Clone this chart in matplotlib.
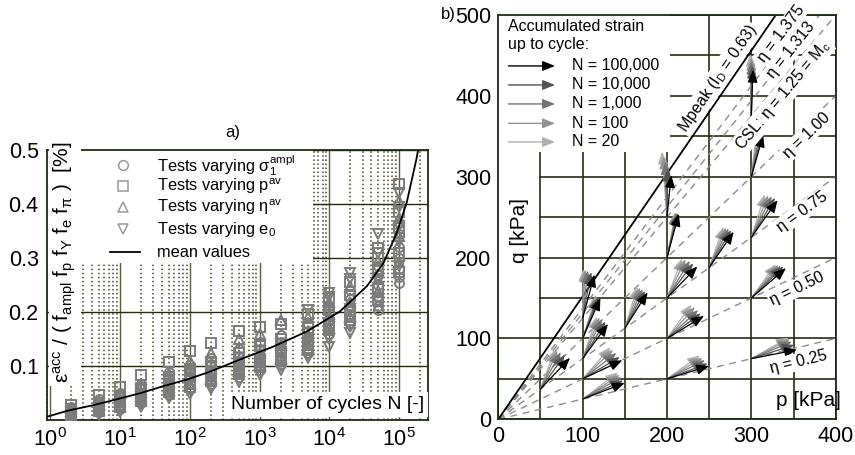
import numpy as np
import matplotlib
matplotlib.use("Agg")
import matplotlib.pyplot as plt
from matplotlib.patches import Rectangle
from matplotlib.ticker import LogLocator, NullFormatter

plt.rcParams['font.family'] = ['Liberation Sans', 'DejaVu Sans']
plt.rcParams['mathtext.default'] = 'regular'

# ---------------- panel a) data ----------------
n_cycles = [2, 5, 10, 20, 50, 100, 200, 500, 1e3, 2e3, 5e3, 1e4, 2e4, 5e4, 1e5]
circ_vals = [
    [0.008, 0.012, 0.016, 0.020, 0.024],
    [0.014, 0.020, 0.026, 0.032, 0.038],
    [0.020, 0.028, 0.035, 0.042, 0.050],
    [0.031, 0.040, 0.049, 0.058, 0.067],
    [0.047, 0.057, 0.067, 0.077, 0.088],
    [0.058, 0.068, 0.079, 0.090, 0.102],
    [0.067, 0.079, 0.091, 0.103, 0.115],
    [0.080, 0.093, 0.106, 0.119, 0.132],
    [0.092, 0.105, 0.118, 0.131, 0.144],
    [0.104, 0.118, 0.131, 0.144, 0.158],
    [0.124, 0.138, 0.151, 0.164, 0.178],
    [0.160, 0.172, 0.185, 0.198, 0.211],
    [0.180, 0.195, 0.210, 0.225, 0.240],
    [0.204, 0.212, 0.230, 0.250, 0.268, 0.286],
    [0.254, 0.265, 0.280, 0.300, 0.320, 0.345, 0.365],
]
sq_vals = [
    [0.010, 0.015, 0.019, 0.027],
    [0.017, 0.024, 0.031, 0.046],
    [0.024, 0.033, 0.044, 0.062],
    [0.035, 0.046, 0.060, 0.083],
    [0.052, 0.064, 0.080, 0.108],
    [0.062, 0.075, 0.095, 0.127],
    [0.072, 0.087, 0.108, 0.142],
    [0.086, 0.101, 0.125, 0.164],
    [0.098, 0.113, 0.137, 0.173],
    [0.110, 0.126, 0.150, 0.178],
    [0.130, 0.146, 0.170, 0.196],
    [0.166, 0.180, 0.204, 0.226],
    [0.186, 0.202, 0.232, 0.255],
    [0.222, 0.245, 0.280, 0.300, 0.318],
    [0.275, 0.310, 0.355, 0.385, 0.437],
]
up_vals = [
    [0.011, 0.017, 0.022],
    [0.019, 0.028, 0.036],
    [0.026, 0.038, 0.048],
    [0.038, 0.052, 0.064],
    [0.055, 0.071, 0.085],
    [0.066, 0.083, 0.110],
    [0.076, 0.095, 0.125],
    [0.090, 0.112, 0.150],
    [0.102, 0.125, 0.160],
    [0.114, 0.138, 0.186],
    [0.134, 0.158, 0.190],
    [0.170, 0.192, 0.218],
    [0.190, 0.218, 0.248],
    [0.238, 0.262, 0.295],
    [0.292, 0.340, 0.375, 0.405],
]
dn_vals = [
    [0.005, 0.014, 0.021],
    [0.010, 0.022, 0.030],
    [0.015, 0.030, 0.040],
    [0.025, 0.043, 0.055],
    [0.040, 0.060, 0.074],
    [0.049, 0.072, 0.087],
    [0.058, 0.083, 0.099],
    [0.071, 0.097, 0.115],
    [0.083, 0.109, 0.128],
    [0.093, 0.122, 0.141],
    [0.114, 0.120, 0.142, 0.204],
    [0.136, 0.150, 0.176, 0.228, 0.235],
    [0.161, 0.172, 0.205, 0.262, 0.273],
    [0.218, 0.258, 0.310, 0.344],
    [0.285, 0.330, 0.360, 0.395, 0.420],
]
mean_n = [0.9, 1.75, 4, 8.2, 20, 42.5, 92, 200, 525, 1580, 4780, 14200,
          34700, 60000, 93000, 129000, 178000, 200000]
mean_eps = [0.006, 0.017, 0.027, 0.037, 0.050, 0.063, 0.075, 0.090, 0.112,
            0.136, 0.164, 0.201, 0.248, 0.291, 0.347, 0.403, 0.484, 0.52]

# ---------------- panel b) data ----------------
eta_lines = [0.25, 0.50, 0.75, 1.00, 1.25, 1.313, 1.375]
eta_texts = ['η = 0.25', 'η = 0.50', 'η = 0.75', 'η = 1.00',
             'CSL: η = 1.25 = M$_c$', 'η = 1.313', 'η = 1.375']
eta_text_p = [355.8, 353.8, 359.8, 365.7, 337.5, 347, 335]
eta_text_q = [71, 162, 256.7, 351.6, 401, 457, 476.5]
m_peak = 1.52

start_p = [50, 100, 100, 100, 100, 100, 150, 200, 200, 200, 200, 200, 250, 300, 300, 300, 300, 300]
start_q = [37.5, 25, 50, 75, 100, 125, 112.5, 50, 100, 150, 200, 250, 187.5, 75, 150, 225, 300, 375]
# arrow tips for N = 20, 100, 1000, 10000, 100000
tip_p = [
    [67, 70, 74, 79, 85],
    [142, 144, 146, 148, 150],
    [133, 136, 140, 144, 147],
    [117, 120, 123, 127, 130],
    [116, 117, 118, 119, 121],
    [101, 103, 106, 110, 114],
    [165, 168, 171, 174, 177],
    [239, 242, 245, 248, 250],
    [229, 233, 237, 240, 244],
    [218, 222, 227, 231, 236],
    [210, 211, 212, 213, 214],
    [194, 196, 198, 201, 205],
    [267, 270, 273, 276, 279],
    [344, 346, 348, 351, 354],
    [329, 332, 335, 338, 341],
    [316, 320, 324, 328, 331],
    [306, 308, 310, 312, 314],
    [299, 300, 300, 301, 302],
]
tip_q = [
    [86, 85, 83, 80, 76],
    [58, 55, 52, 48, 45],
    [89, 86, 82, 77, 73],
    [127, 126, 124, 121, 118],
    [152, 152, 151, 151, 150],
    [186, 185, 184, 182, 179],
    [164, 163, 161, 159, 157],
    [79, 76, 73, 69, 66],
    [142, 139, 135, 131, 128],
    [199, 198, 196, 193, 189],
    [256, 256, 255, 255, 254],
    [331, 325, 318, 310, 302],
    [238, 237, 236, 234, 232],
    [101, 99, 96, 92, 86],
    [192, 191, 190, 189, 187],
    [278, 277, 276, 274, 271],
    [356, 355, 354, 353, 352],
    [452, 447, 442, 437, 432],
]
arrow_colors = ['#b0b0b0', '#929292', '#747474', '#525252', '#000000']
legend_labels = ['N = 20', 'N = 100', 'N = 1,000', 'N = 10,000', 'N = 100,000']

W, H = 855, 455
fig = plt.figure(figsize=(W / 100, H / 100), dpi=100)
spine_c = '#1c2c10'
grid_c = '#2a2a14'

# ================= panel a) =================
ax1 = fig.add_axes([47 / W, 1 - 420 / H, 381 / W, 270 / H])
ax1.set_xscale('log')
ax1.set_xlim(0.9, 2.6e5)
ax1.set_ylim(0, 0.5)
ax1.set_xticks([10.0 ** k for k in range(6)])
ax1.set_xticklabels([r'$10^{%d}$' % k for k in range(6)])
ax1.xaxis.set_minor_locator(LogLocator(base=10, subs=range(2, 10), numticks=20))
ax1.xaxis.set_minor_formatter(NullFormatter())
ax1.set_yticks([0.1, 0.2, 0.3, 0.4, 0.5])
ax1.set_yticklabels(['0.1', '0.2', '0.3', '0.4', '0.5'])
ax1.tick_params(which='both', length=0, labelsize=15.5, pad=6)
ax1.set_axisbelow(True)
ax1.grid(which='major', axis='x', color='#5c5c3c', lw=1.0)
ax1.grid(which='minor', axis='x', color='#45452a', lw=1.1, ls=':')
ax1.grid(which='major', axis='y', color=grid_c, lw=1.0)
for s in ax1.spines.values():
    s.set_color(spine_c)
    s.set_linewidth(1.3)

# white area behind the legend
ax1.add_patch(Rectangle((0, 0.581), 0.698, 0.419, transform=ax1.transAxes,
                        fc='white', ec='none', zorder=1))

mk = dict(ls='none', mfc='none', mec='#7c7c7c', mew=1.4, ms=6.5, zorder=3)
for n, c, s, u, d in zip(n_cycles, circ_vals, sq_vals, up_vals, dn_vals):
    ax1.plot([n] * len(c), c, marker='o', **mk)
    ax1.plot([n] * len(s), s, marker='s', **mk)
    ax1.plot([n] * len(u), u, marker='^', **mk)
    ax1.plot([n] * len(d), d, marker='v', **mk)
ax1.plot(mean_n, mean_eps, color='black', lw=1.3, zorder=4)

# legend (manual)
leg_rows = [0.944, 0.867, 0.789, 0.707, 0.622]
leg_text = ['Tests varying σ$_1^{ampl}$', 'Tests varying p$^{av}$',
            'Tests varying η$^{av}$', 'Tests varying e$_0$', 'mean values']
for y, m in zip(leg_rows[:4], ['o', 's', '^', 'v']):
    ax1.plot([0.2], [y], marker=m, ls='none', mfc='none', mec='#999999', mew=1.1, ms=7,
             transform=ax1.transAxes, zorder=5)
ax1.plot([0.166, 0.245], [leg_rows[4]] * 2, color='black', lw=1.3,
         transform=ax1.transAxes, zorder=5)
for y, t in zip(leg_rows, leg_text):
    ax1.text(0.289, y, t, transform=ax1.transAxes, fontsize=11.8, va='center', ha='left', zorder=5)

ax1.text(0.047, 0.585,
         'ε$^{acc}$ / ( f$_{ampl}$ f$_p$ f$_Y$ f$_e$ f$_π$ )  [%]',
         transform=ax1.transAxes, rotation=90, ha='center', va='center', fontsize=15,
         bbox=dict(fc='white', ec='none', pad=2), zorder=6)
ax1.text(0.737, 0.056, 'Number of cycles N [-]', transform=ax1.transAxes,
         ha='center', va='center', fontsize=14,
         bbox=dict(fc='white', ec='none', pad=3), zorder=6)
fig.text(233 / W, 1 - 132 / H, 'a)', fontsize=12, ha='center', va='center')

# ================= panel b) =================
ax2 = fig.add_axes([498.3 / W, 1 - 419.3 / H, 337.4 / W, 404.3 / H])
ax2.set_xlim(0, 400)
ax2.set_ylim(0, 500)
ax2.set_xticks([0, 100, 200, 300, 400])
ax2.set_yticks([0, 100, 200, 300, 400, 500])
ax2.set_xticks(np.arange(50, 400, 100), minor=True)
ax2.set_yticks(np.arange(50, 500, 100), minor=True)
ax2.tick_params(which='both', length=0, labelsize=15.5, pad=5)
ax2.set_axisbelow(True)
ax2.grid(which='both', color=grid_c, lw=1.2)
for s in ax2.spines.values():
    s.set_color(spine_c)
    s.set_linewidth(1.3)

ax2.add_patch(Rectangle((0, 330), 203, 170, fc='white', ec='none', zorder=1))
ax2.add_patch(Rectangle((0, 103), 48.5, 227, fc='white', ec='none', zorder=1))

for eta in eta_lines:
    ax2.axline((0, 0), slope=eta, color='#8c8c8c', lw=1.0, ls=(0, (5, 4)), zorder=2)
ax2.axline((0, 0), slope=m_peak, color='black', lw=1.3, zorder=2)

for sp, sq, tps, tqs in zip(start_p, start_q, tip_p, tip_q):
    for k, (tp, tq) in enumerate(zip(tps, tqs)):
        ax2.annotate('', xy=(tp, tq), xytext=(sp, sq),
                     arrowprops=dict(arrowstyle='-|>,head_length=0.5,head_width=0.2',
                                     color=arrow_colors[k], lw=0.9, shrinkA=0, shrinkB=0,
                                     mutation_scale=15),
                     zorder=3 + k * 0.1)

lab_kw = dict(fontsize=11.5, ha='center', va='center', rotation_mode='anchor',
              transform_rotates_text=True, zorder=4,
              bbox=dict(fc='white', ec='none', pad=1.0))
for eta, t, tp, tq in zip(eta_lines, eta_texts, eta_text_p, eta_text_q):
    ax2.text(tp, tq, t, rotation=np.degrees(np.arctan(eta)), **lab_kw)
ax2.text(260, 422, 'Mpeak (I$_D$ = 0.63)', rotation=np.degrees(np.arctan(m_peak)), **lab_kw)

ax2.text(367.6, 11.5, 'p [kPa]', fontsize=15, ha='center', va='bottom', zorder=4)
ax2.text(25.7, 234, 'q [kPa]', fontsize=15, ha='center', va='center', rotation=90, zorder=4)

# legend with arrows (manual)
ax2.text(0.03, 0.972, 'Accumulated strain', transform=ax2.transAxes, fontsize=11.5,
         ha='left', va='center', zorder=5)
ax2.text(0.03, 0.926, 'up to cycle:', transform=ax2.transAxes, fontsize=11.5,
         ha='left', va='center', zorder=5)
leg_y = [0.686, 0.732, 0.78, 0.827, 0.874]
for y, c, t in zip(leg_y, arrow_colors, legend_labels):
    ax2.annotate('', xy=(0.168, y), xytext=(0.03, y), xycoords='axes fraction',
                 arrowprops=dict(arrowstyle='-|>,head_length=0.5,head_width=0.2', color=c,
                                 lw=1.0, shrinkA=0, shrinkB=0, mutation_scale=15), zorder=5)
    ax2.text(0.218, y, t, transform=ax2.transAxes, fontsize=11.5, ha='left', va='center', zorder=5)

fig.text(448 / W, 1 - 15 / H, 'b)', fontsize=12, ha='center', va='center')

fig.savefig('out.png', dpi=100)
